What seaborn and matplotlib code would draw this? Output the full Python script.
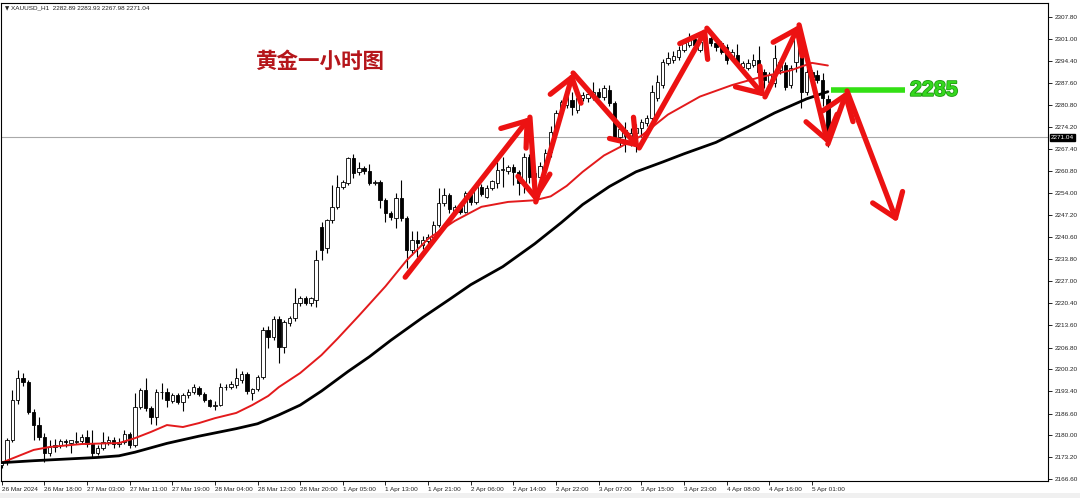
import matplotlib
matplotlib.use('Agg')
import matplotlib.pyplot as plt
import matplotlib.patheffects as pe
import matplotlib.transforms as mtransforms
import pandas as pd
import seaborn as sns

# XAUUSD H1 candles (bar 0 = first visible hour)
opens = [2171.0, 2171.8, 2178.5, 2190.7, 2197.5, 2196.2, 2187.2, 2183.1, 2179.3, 2174.5,
         2176.4, 2177.0, 2178.3, 2177.6, 2178.0, 2178.2, 2179.6, 2177.4, 2174.6, 2176.2,
         2177.8, 2178.5, 2177.2, 2178.0, 2180.3, 2177.0, 2188.6, 2193.8, 2188.3, 2185.5,
         2193.2, 2193.3, 2190.5, 2192.3, 2190.2, 2192.3, 2193.2, 2194.5, 2192.7, 2190.7,
         2189.0, 2189.3, 2194.7, 2194.8, 2195.4, 2197.0, 2198.7, 2193.0, 2194.0, 2197.8,
         2212.1, 2210.0, 2215.5, 2207.0, 2214.3, 2215.8, 2220.4, 2221.9, 2220.4, 2221.3,
         2243.6, 2237.2, 2245.8, 2249.7, 2255.8, 2257.0, 2264.7, 2260.4, 2261.6, 2260.6,
         2257.2, 2257.4, 2251.9, 2247.9, 2246.3, 2252.5, 2246.3, 2236.6, 2239.6, 2238.0,
         2239.5, 2240.5, 2244.2, 2250.9, 2253.4, 2248.6, 2249.6, 2248.3, 2254.0, 2251.3,
         2255.8, 2252.8, 2255.5, 2257.0, 2261.0, 2260.8, 2262.0, 2260.5, 2257.2, 2265.0,
         2259.0, 2259.0, 2262.0, 2266.5, 2273.2, 2278.6, 2281.0, 2282.3, 2279.4, 2283.0,
         2283.0, 2283.4, 2284.9, 2283.4, 2285.5, 2281.5, 2271.1, 2271.6, 2271.5, 2272.5,
         2273.9, 2275.5, 2277.0, 2283.0, 2287.0, 2293.8, 2294.6, 2295.5, 2297.7, 2299.3,
         2301.0, 2297.7, 2300.8, 2301.4, 2299.8, 2299.8, 2298.6, 2295.5, 2296.2, 2292.5,
         2292.2, 2293.3, 2294.7, 2291.0, 2288.0, 2287.6, 2291.6, 2293.1, 2287.0, 2294.0,
         2301.4, 2285.0, 2291.0, 2290.0, 2288.5, 2282.89]
highs = [2172.2, 2179.0, 2193.8, 2199.9, 2199.0, 2197.0, 2188.0, 2185.5, 2180.7, 2178.5,
         2178.8, 2178.8, 2178.8, 2178.6, 2181.0, 2180.5, 2181.5, 2181.5, 2177.0, 2181.0,
         2179.8, 2179.5, 2179.0, 2181.5, 2181.0, 2193.0, 2194.4, 2197.5, 2189.0, 2194.0,
         2196.0, 2194.5, 2192.8, 2193.0, 2193.0, 2194.0, 2195.8, 2195.0, 2193.2, 2191.2,
         2190.5, 2196.0, 2195.5, 2196.5, 2200.5, 2199.5, 2199.2, 2194.5, 2198.5, 2213.0,
         2213.5, 2216.5, 2216.5, 2215.2, 2216.5, 2225.0, 2222.5, 2222.5, 2222.3, 2236.5,
         2245.1, 2246.0, 2256.5, 2259.5, 2258.0, 2265.0, 2266.0, 2263.5, 2262.2, 2263.0,
         2258.0, 2258.0, 2252.5, 2248.5, 2254.0, 2258.0, 2247.0, 2242.5, 2242.5, 2241.0,
         2241.5, 2245.5, 2255.5, 2255.5, 2254.0, 2250.5, 2251.0, 2254.5, 2255.0, 2257.5,
         2256.8, 2256.5, 2258.0, 2263.5, 2265.0, 2262.5, 2263.0, 2261.0, 2266.2, 2266.0,
         2261.0, 2263.5, 2267.5, 2274.5, 2279.5, 2282.5, 2285.5, 2285.0, 2285.5, 2285.0,
         2285.0, 2288.0, 2286.0, 2287.0, 2287.0, 2282.2, 2274.8, 2275.8, 2274.0, 2275.0,
         2276.5, 2278.0, 2287.0, 2290.0, 2295.0, 2297.0, 2297.5, 2299.0, 2301.0, 2302.9,
         2302.0, 2301.0, 2303.5, 2302.5, 2301.0, 2300.5, 2299.5, 2298.0, 2299.5, 2294.5,
         2295.0, 2296.5, 2299.0, 2292.0, 2291.0, 2299.2, 2295.0, 2294.0, 2293.0, 2304.4,
         2303.0, 2294.7, 2291.6, 2291.5, 2290.7, 2283.93]
lows = [2169.9, 2171.0, 2177.8, 2189.5, 2195.0, 2186.5, 2178.5, 2178.5, 2171.8, 2173.5,
        2175.0, 2176.0, 2176.4, 2174.5, 2177.3, 2177.5, 2176.5, 2173.0, 2174.0, 2175.5,
        2177.0, 2176.2, 2176.5, 2177.2, 2176.0, 2176.5, 2188.0, 2187.5, 2183.5, 2183.0,
        2191.0, 2188.5, 2189.8, 2189.5, 2187.5, 2191.5, 2192.5, 2192.0, 2190.2, 2188.5,
        2187.8, 2188.8, 2193.8, 2194.0, 2194.5, 2196.0, 2192.6, 2190.7, 2193.5, 2197.3,
        2206.6, 2209.0, 2202.0, 2205.0, 2213.5, 2215.0, 2219.5, 2219.8, 2219.5, 2219.2,
        2233.5, 2235.7, 2245.0, 2249.0, 2255.2, 2256.5, 2258.6, 2259.5, 2259.8, 2256.5,
        2256.5, 2249.4, 2245.1, 2245.8, 2243.3, 2245.5, 2231.1, 2235.0, 2234.5, 2237.0,
        2238.0, 2239.5, 2243.5, 2250.0, 2248.0, 2247.5, 2247.5, 2247.8, 2250.5, 2250.8,
        2253.2, 2252.5, 2254.8, 2255.5, 2255.8, 2259.8, 2256.5, 2253.4, 2254.0, 2257.0,
        2253.0, 2258.0, 2261.0, 2265.0, 2272.5, 2277.5, 2280.0, 2277.8, 2278.5, 2282.0,
        2281.8, 2282.5, 2283.0, 2282.5, 2280.5, 2270.0, 2268.0, 2266.5, 2268.5, 2266.7,
        2271.0, 2274.5, 2276.0, 2282.0, 2286.0, 2293.0, 2293.8, 2294.8, 2297.0, 2298.5,
        2298.5, 2297.0, 2297.5, 2299.0, 2297.5, 2296.5, 2293.5, 2294.5, 2293.0, 2291.5,
        2291.5, 2292.5, 2288.5, 2286.0, 2287.0, 2286.5, 2290.5, 2285.5, 2286.0, 2291.0,
        2280.0, 2284.0, 2288.8, 2287.5, 2280.5, 2267.98]
closes = [2171.6, 2178.5, 2190.7, 2197.5, 2196.2, 2187.2, 2183.1, 2179.3, 2174.5, 2176.4,
          2177.0, 2178.3, 2177.8, 2178.4, 2178.2, 2179.6, 2177.4, 2174.6, 2176.2, 2177.8,
          2178.5, 2177.2, 2178.0, 2180.3, 2177.0, 2188.6, 2193.8, 2188.3, 2185.5, 2193.2,
          2193.3, 2190.7, 2192.3, 2190.2, 2192.3, 2193.2, 2194.7, 2192.7, 2190.7, 2189.0,
          2189.3, 2194.7, 2194.8, 2195.6, 2197.5, 2198.7, 2193.5, 2194.0, 2197.8, 2212.1,
          2210.0, 2215.5, 2207.0, 2214.6, 2215.8, 2220.4, 2221.9, 2220.4, 2221.8, 2233.5,
          2236.6, 2245.8, 2249.7, 2255.8, 2257.3, 2264.7, 2260.1, 2261.6, 2260.6, 2257.0,
          2257.4, 2251.9, 2247.9, 2246.6, 2252.5, 2246.3, 2236.6, 2239.6, 2238.6, 2239.8,
          2240.5, 2244.2, 2250.9, 2253.4, 2249.2, 2249.6, 2248.3, 2254.0, 2251.3, 2255.8,
          2253.8, 2255.5, 2257.6, 2261.0, 2261.3, 2262.0, 2260.5, 2257.2, 2265.0, 2259.0,
          2260.2, 2262.3, 2266.2, 2272.8, 2278.6, 2281.8, 2284.0, 2280.3, 2283.0, 2284.0,
          2284.2, 2284.9, 2283.4, 2286.1, 2281.5, 2271.1, 2273.5, 2273.2, 2272.5, 2273.9,
          2275.6, 2277.0, 2284.9, 2288.0, 2294.0, 2295.3, 2296.0, 2297.7, 2299.9, 2301.7,
          2299.3, 2300.1, 2298.3, 2299.8, 2298.5, 2297.0, 2294.7, 2297.0, 2294.0, 2293.8,
          2293.7, 2294.7, 2291.0, 2288.5, 2290.0, 2295.3, 2294.0, 2286.4, 2292.2, 2302.3,
          2285.0, 2291.0, 2289.5, 2288.5, 2283.0, 2271.04]

# moving averages, sampled from the chart (bar index, price)
red_ma_bar = [0, 6, 9, 15, 22, 25, 28, 31, 34, 37, 40, 44, 47, 50, 52, 56, 60, 63, 67, 72,
              76, 80, 85, 90, 95, 100, 103, 106, 109, 113, 120, 125, 131, 137, 142, 148, 152, 155]
red_ma = [2171.6, 2175.5, 2176.4, 2177.3, 2177.6, 2179.1, 2181.0, 2183.1, 2182.5, 2183.7,
          2185.2, 2186.8, 2189.2, 2192.0, 2194.7, 2199.0, 2204.5, 2209.5, 2216.5, 2225.5,
          2233.5, 2240.0, 2245.5, 2249.8, 2251.3, 2251.8, 2253.0, 2256.2, 2260.5, 2265.5,
          2271.5, 2278.0, 2283.5, 2287.0, 2289.3, 2291.5, 2293.8, 2293.0]
black_ma_bar = [0, 6, 12, 18, 22, 25, 31, 37, 44, 48, 52, 56, 60, 65, 69, 73, 79, 84, 88, 94,
                100, 105, 109, 114, 119, 124, 128, 134, 140, 145, 151, 155]
black_ma = [2171.6, 2172.2, 2172.7, 2173.2, 2173.7, 2174.8, 2177.5, 2179.7, 2182.0, 2183.5,
            2186.2, 2189.2, 2193.5, 2199.5, 2204.0, 2209.0, 2216.0, 2221.5, 2226.0, 2231.5,
            2238.5, 2245.0, 2250.5, 2256.0, 2260.5, 2263.5, 2266.0, 2269.5, 2274.3, 2278.5,
            2282.8, 2285.0]

# hand drawn zig-zag arrows (bar index, price)
arrow_bar = [75.7, 99.1, 100.2, 107.2, 119.6, 132.3, 143.2, 149.6, 155.0, 158.6, 168.0]
arrow_price = [2228.3, 2277.2, 2251.3, 2290.7, 2267.8, 2304.4, 2283.4, 2305.4, 2269.0, 2285.2, 2245.1]

level_price = 2285.4
level_bars = [155.6, 169.5]
level_text = '2285'
last_price = 2271.04

date_ticks = list(range(0, 160, 8))
date_labels = ['26 Mar 2024', '26 Mar 18:00', '27 Mar 03:00', '27 Mar 11:00', '27 Mar 19:00',
               '28 Mar 04:00', '28 Mar 12:00', '28 Mar 20:00', '1 Apr 05:00', '1 Apr 13:00',
               '1 Apr 21:00', '2 Apr 06:00', '2 Apr 14:00', '2 Apr 22:00', '3 Apr 07:00',
               '3 Apr 15:00', '3 Apr 23:00', '4 Apr 08:00', '4 Apr 16:00', '5 Apr 01:00']
price_ticks = [2166.60, 2173.20, 2180.00, 2186.60, 2193.40, 2200.20, 2206.80, 2213.60,
               2220.40, 2227.00, 2233.80, 2240.60, 2247.20, 2254.00, 2260.80, 2267.40,
               2274.20, 2280.80, 2287.60, 2294.40, 2301.00, 2307.80]

sns.set_style('white')
plt.rcParams['font.family'] = ['Liberation Sans', 'DejaVu Sans', 'Noto Sans CJK SC']

fig = plt.figure(figsize=(10.8, 4.98), dpi=100)
# light strip under the time scale
fig.patches.append(plt.Rectangle((0, 0), 1, 5 / 498, transform=fig.transFigure,
                                 facecolor='#f0f0f0', edgecolor='none', zorder=0))
ax = fig.add_axes([1 / 1080, 17 / 498, 1047 / 1080, 478 / 498])

df = pd.DataFrame({'bar': range(len(opens)), 'open': opens, 'high': highs,
                   'low': lows, 'close': closes})
up = df['close'] >= df['open']

# candles
ax.vlines(df['bar'], df['low'], df['high'], color='black', lw=0.8, zorder=2)
body = (df['close'] - df['open']).abs().clip(lower=0.15)
bottom = df[['open', 'close']].min(axis=1)
ax.bar(df['bar'], body, bottom=bottom, width=0.64,
       color=['white' if u else 'black' for u in up],
       edgecolor='black', linewidth=0.6, zorder=3)

# moving averages
sns.lineplot(x=red_ma_bar, y=red_ma, ax=ax, color='#e31a1c', lw=1.4, zorder=4)
sns.lineplot(x=black_ma_bar, y=black_ma, ax=ax, color='black', lw=2.0, zorder=4)

# last price line
ax.axhline(last_price, color='#a9a9a9', lw=0.8, zorder=1)

# green level
ax.plot(level_bars, [level_price, level_price], color='#33e014', lw=4, zorder=5,
        solid_capstyle='butt')
ax.text(level_bars[1] + 0.9, level_price, level_text, color='#35d81e', fontsize=15.5,
        fontweight='bold', va='center', ha='left', family=['Liberation Sans'],
        path_effects=[pe.withStroke(linewidth=1.2, foreground='#1f9a12')], zorder=6)

# red arrows
for k in range(len(arrow_bar) - 1):
    ax.annotate('', xy=(arrow_bar[k + 1], arrow_price[k + 1]),
                xytext=(arrow_bar[k], arrow_price[k]),
                arrowprops=dict(arrowstyle='->,head_length=0.5,head_width=0.36',
                                color='#ec1212', lw=3.8, shrinkA=0, shrinkB=0,
                                mutation_scale=32),
                zorder=7)

ax.text(0.243, 0.878, '黄金一小时图', transform=ax.transAxes, color='#b5161b',
        fontsize=15.5, fontweight='bold', va='center', ha='left',
        family=['Noto Sans CJK SC'])
ax.text(0.004, 0.993, '▼', transform=ax.transAxes, fontsize=4, va='top', ha='left',
        family=['DejaVu Sans'])
ax.text(0.0095, 0.995, 'XAUUSD_H1  2282.89 2283.93 2267.98 2271.04', transform=ax.transAxes,
        fontsize=4.6, va='top', ha='left', color='#222222')

ax.set_xlim(-0.13, 196.3)
ax.set_ylim(2166.0, 2312.1)

ax.set_xticks(date_ticks)
ax.set_xticklabels(date_labels, ha='left')
ax.yaxis.tick_right()
ax.set_yticks(price_ticks)
ax.set_yticklabels([f'{p:.2f}' for p in price_ticks])
ax.tick_params(axis='x', direction='out', length=3, width=0.6, pad=1, labelsize=4.6,
               colors='black', labelcolor='#222222', bottom=True)
ax.tick_params(axis='y', direction='out', length=3, width=0.6, pad=2, labelsize=4.6,
               colors='black', labelcolor='#222222', right=True, left=False)
ax.set_xlabel('')
ax.set_ylabel('')
for s in ax.spines.values():
    s.set_color('black')
    s.set_linewidth(0.8)

# last price tag on the right scale
trans = mtransforms.blended_transform_factory(ax.transAxes, ax.transData)
ax.text(1.003, last_price, f'{last_price:.2f}', transform=trans, color='white',
        fontsize=4.6, va='center', ha='left',
        bbox=dict(facecolor='black', edgecolor='black', pad=0.8), zorder=8)

fig.savefig('out.png', dpi=100)
